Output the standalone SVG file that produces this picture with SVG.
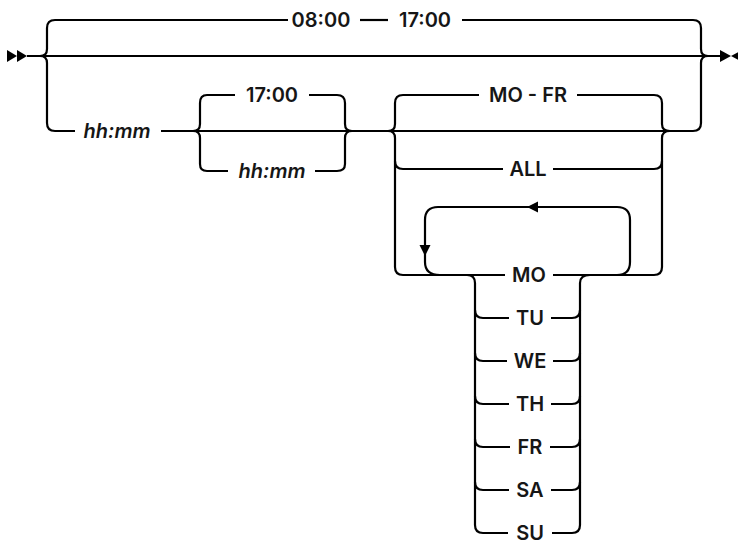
<svg xmlns="http://www.w3.org/2000/svg" width="738" height="544" viewBox="0 0 738 544">
<style>
.c{fill:none;stroke:#000;stroke-width:2.2;stroke-linecap:butt;stroke-linejoin:round}
.a{fill:#000}
text{font-family:Inter,"Noto Sans","Liberation Sans",sans-serif;font-size:20px;font-weight:600;fill:#161616;text-anchor:middle}
.i{font-style:italic}
</style>
<rect width="738" height="544" fill="#fff"/>
<g id="connectors">
<!-- start / end markers -->
<polygon class="a" points="7,50 17,56 7,62"/>
<polygon class="a" points="17,50 27,56 17,62"/>
<polygon class="a" points="720,50 731,56 720,62"/>
<polygon class="a" points="742,50 731,56 742,62"/>
<!-- main line -->
<path class="c" d="M27,56 L720,56"/>
<!-- top default branch -->
<path class="c" d="M40,56 Q47,56 47,49 L47,28 Q47,20 55,20 L288,20"/>
<path class="c" d="M360,20 L388,20"/>
<path class="c" d="M462,20 L693,20 Q701,20 701,28 L701,49 Q701,56 708,56"/>
<!-- bottom branch -->
<path class="c" d="M40,56 Q47,56 47,63 L47,123 Q47,131 55,131 L75,131"/>
<path class="c" d="M161,131 L693,131 Q701,131 701,123 L701,63 Q701,56 708,56"/>
<!-- end time choice -->
<path class="c" d="M193,131 Q200,131 200,124 L200,103 Q200,95 207,95 L235,95"/>
<path class="c" d="M309,95 L337,95 Q345,95 345,103 L345,124 Q345,131 352,131"/>
<path class="c" d="M193,131 Q200,131 200,138 L200,164 Q200,171 207,171 L228,171"/>
<path class="c" d="M315,171 L337,171 Q345,171 345,164 L345,138 Q345,131 352,131"/>
<!-- days choice -->
<path class="c" d="M388,131 Q395,131 395,124 L395,103 Q395,95 403,95 L479,95"/>
<path class="c" d="M577,95 L654,95 Q662,95 662,103 L662,124 Q662,131 670,131"/>
<path class="c" d="M388,131 Q395,131 395,138 L395,267 Q395,275 403,275 L505,275"/>
<path class="c" d="M553,275 L654,275 Q662,275 662,267 L662,138 Q662,131 670,131"/>
<path class="c" d="M395,161 Q395,169 403,169 L503,169"/>
<path class="c" d="M553,169 L654,169 Q662,169 662,161"/>
<!-- repeat loop -->
<path class="c" d="M440,275 Q425,275 425,262 L425,220 Q425,207 438,207 L617,207 Q630,207 630,220 L630,262 Q630,275 617,275"/>
<polygon class="a" points="527,207 538,201.5 538,212.5"/>
<polygon class="a" points="425,256 419.5,245 430.5,245"/>
<!-- single days -->
<path class="c" d="M467,275 Q475,275 475,283 L475,525 Q475,533 483,533 L508,533"/>
<path class="c" d="M590,275 Q580,275 580,283 L580,525 Q580,533 572,533 L552,533"/>
<path class="c" d="M475,310 Q475,318 483,318 L509,318 M551,318 L572,318 Q580,318 580,310"/>
<path class="c" d="M475,353 Q475,361 483,361 L507,361 M553,361 L572,361 Q580,361 580,353"/>
<path class="c" d="M475,396 Q475,404 483,404 L509,404 M551,404 L572,404 Q580,404 580,396"/>
<path class="c" d="M475,439 Q475,447 483,447 L510,447 M550,447 L572,447 Q580,447 580,439"/>
<path class="c" d="M475,482 Q475,490 483,490 L509,490 M551,490 L572,490 Q580,490 580,482"/>
</g>
<g id="n_0800"><text x="321" y="27">08:00</text></g>
<g id="n_1700a"><text x="425" y="27">17:00</text></g>
<g id="n_hhmm1"><text class="i" x="117" y="138">hh:mm</text></g>
<g id="n_1700b"><text x="272" y="102">17:00</text></g>
<g id="n_hhmm2"><text class="i" x="272" y="178">hh:mm</text></g>
<g id="n_mofr"><text x="528" y="102">MO - FR</text></g>
<g id="n_all"><text x="528" y="176">ALL</text></g>
<g id="n_mo"><text x="529" y="282">MO</text></g>
<g id="n_tu"><text x="530" y="325">TU</text></g>
<g id="n_we"><text x="530" y="368">WE</text></g>
<g id="n_th"><text x="530" y="411">TH</text></g>
<g id="n_fr"><text x="530" y="454">FR</text></g>
<g id="n_sa"><text x="530" y="497">SA</text></g>
<g id="n_su"><text x="530" y="540">SU</text></g>
</svg>
